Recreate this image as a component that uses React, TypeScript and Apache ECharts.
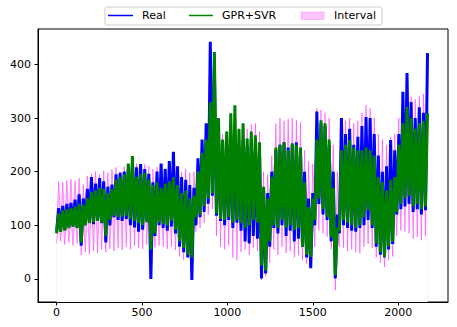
import React, { useEffect, useRef } from "react";
import * as echarts from "echarts";

const realValues = [
  88,132, 95,136, 92,140, 98,142, 100,148, 96,158, 62,150, 105,168, 108,190, 102,178,
  110,188, 104,182, 68,172, 100,176, 115,195, 110,198, 108,200, 112,205, 100,212, 96,208,
  88,214, 92,205, 110,196, 0,180, 80,200, 100,215, 95,205, 90,220, 98,237, 85,210,
  60,190, 50,185, 40,175, -2,170, 100,225, 115,260, 125,290, 140,442, 155,393, 118,270,
  108,255, 100,250, 110,258, 95,240, 105,245, 90,258, 70,248, 66,260, 80,240, 75,235,
  1,170, 10,160, 60,200, 95,240, 85,250, 100,255, 80,245, 90,250, 70,255, 75,240,
  60,200, 40,150, 20,160, 100,312, 140,290, 120,285, 110,250, 70,200, 1,120, 85,300,
  100,270, 95,280, 90,250, 88,265, 95,285, 100,302, 110,300, 95,270, 60,230, 45,200,
  40,210, 55,259, 65,240, 120,270, 130,349, 135,384, 140,330, 125,300, 130,320, 120,310,
  128,421,
];

const predValues = [
  85,122, 88,128, 90,130, 95,132, 97,135, 95,140, 68,138, 100,150, 104,162, 106,165,
  108,170, 105,168, 80,160, 110,168, 118,185, 115,190, 116,195, 118,215, 112,229, 108,190,
  104,195, 100,198, 106,185, 55,175, 85,180, 105,170, 102,178, 100,182, 108,190, 92,175,
  70,160, 58,165, 45,150, 40,155, 115,200, 120,235, 135,260, 150,330, 160,423, 122,300,
  112,260, 110,275, 115,309, 105,324, 110,280, 104,290, 95,262, 100,275, 110,268, 105,255,
  25,172, 16,150, 70,190, 100,245, 95,250, 110,255, 95,240, 100,253, 91,250, 95,245,
  60,180, 45,134, 41,150, 110,260, 150,296, 130,290, 115,260, 78,170, 7,95, 91,240,
  110,250, 105,259, 100,245, 95,240, 100,240, 115,245, 128,240, 100,230, 66,190, 50,180,
  41,165, 60,185, 70,190, 125,250, 140,290, 150,321, 155,300, 135,280, 140,290, 130,295,
  135,309,
];

const upperValues = [
  100,182, 103,180, 105,184, 110,186, 112,183, 110,188, 85,176, 115,192, 120,196, 121,200,
  123,195, 120,202, 95,198, 125,205, 133,208, 130,200, 131,210, 133,212, 127,208, 123,215,
  119,212, 115,214, 121,210, 70,205, 100,208, 120,210, 117,206, 115,215, 123,218, 107,210,
  85,200, 73,205, 60,198, 55,200, 130,220, 135,240, 150,262, 165,300, 175,310, 137,285,
  127,270, 125,275, 130,280, 120,285, 125,270, 119,282, 110,280, 115,288, 125,290, 120,275,
  40,200, 31,195, 85,230, 115,290, 110,300, 125,295, 110,298, 115,300, 106,296, 110,292,
  75,240, 60,220, 56,215, 125,318, 165,315, 145,310, 130,300, 93,250, 22,200, 106,300,
  125,295, 120,300, 115,290, 110,295, 115,310, 130,324, 143,318, 115,300, 81,270, 65,260,
  56,250, 75,265, 85,270, 140,300, 155,330, 165,345, 170,340, 150,335, 155,340, 145,345,
  150,360,
];

const lowerValues = [
  66,107, 70,113, 64,115, 68,117, 62,120, 66,125, 44,123, 50,135, 46,147, 52,150,
  48,155, 55,153, 50,145, 56,153, 52,170, 58,175, 54,180, 60,200, 55,214, 62,175,
  58,180, 56,183, 64,170, 45,160, 58,165, 62,155, 60,163, 56,167, 60,175, 54,160,
  42,145, 36,150, 40,135, 38,140, 88,185, 95,220, 105,245, 120,315, 130,408, 80,285,
  60,245, 55,260, 62,294, 40,309, 35,265, 50,275, 55,247, 45,260, 58,253, 52,240,
  -2,157, 5,135, 30,175, 55,230, 45,235, 60,240, 48,225, 52,238, 40,235, 44,230,
  35,165, 28,119, 30,135, 60,245, 90,281, 85,275, 78,245, 55,155, -21,80, 60,225,
  58,235, 52,244, 55,230, 50,225, 48,225, 60,230, 65,225, 58,215, 40,175, 30,165,
  22,150, 35,170, 42,175, 80,235, 90,275, 88,306, 85,285, 75,265, 78,275, 72,280,
  80,294,
];

const legendNames = ["Real", "GPR+SVR", "Interval"];

const FONT = "DejaVu Sans";

export default function App() {
  const ref = useRef<HTMLDivElement>(null);

  useEffect(() => {
    if (!ref.current) return;
    const chart = echarts.init(ref.current, undefined, { renderer: "svg" });
    const hours = realValues.map((_, i) => i * 12);
    const pink = "rgba(255,0,255,0.22)";
    const pinkEdge = "rgba(255,0,255,0.4)";

    const axisCommon = {
      splitLine: { show: false },
      axisLine: { show: true, onZero: false, lineStyle: { color: "#000", width: 1 } },
      axisTick: { show: true, length: 3.5, lineStyle: { color: "#000" } },
      z: 10,
    };

    const option: any = {
      animation: false,
      backgroundColor: "#ffffff",
      grid: {
        left: 38,
        right: 9,
        top: 29,
        bottom: 25,
        show: true,
        borderColor: "#000",
        borderWidth: 1,
        backgroundColor: "transparent",
      },
      xAxis: {
        type: "value",
        min: -109,
        max: 2292,
        splitNumber: 5,
        ...axisCommon,
        axisLabel: {
          color: "#000",
          fontSize: 11,
          fontFamily: FONT,
          margin: 5,
          showMinLabel: false,
          showMaxLabel: false,
          formatter: (v: number) => String(v),
        },
      },
      yAxis: {
        type: "value",
        min: -43,
        max: 466,
        splitNumber: 5,
        ...axisCommon,
        axisLabel: {
          color: "#000",
          fontSize: 11,
          fontFamily: FONT,
          margin: 7,
          showMinLabel: false,
          showMaxLabel: false,
          formatter: (v: number) => String(v),
        },
      },
      series: [
        {
          type: "line",
          name: legendNames[2],
          data: hours.map((h, i) => [h, upperValues[i]]),
          showSymbol: false,
          silent: true,
          lineStyle: { color: pinkEdge, width: 1 },
          areaStyle: { color: pink, origin: "start", opacity: 1 },
          z: 1,
        },
        {
          type: "line",
          name: "lowerBound",
          data: hours.map((h, i) => [h, lowerValues[i]]),
          showSymbol: false,
          silent: true,
          lineStyle: { color: pinkEdge, width: 1 },
          areaStyle: { color: "#ffffff", origin: "start", opacity: 1 },
          z: 1.5,
        },
        {
          type: "line",
          name: legendNames[0],
          data: hours.map((h, i) => [h, realValues[i]]),
          showSymbol: false,
          silent: true,
          lineStyle: { color: "#0000ff", width: 3 },
          z: 3,
        },
        {
          type: "line",
          name: legendNames[1],
          data: hours.map((h, i) => [h, predValues[i]]),
          showSymbol: false,
          silent: true,
          lineStyle: { color: "#008000", width: 3 },
          z: 4,
        },
      ],
      graphic: [
        {
          type: "rect",
          shape: { x: 105, y: 7, width: 277, height: 18, r: 2 },
          style: { fill: "rgba(255,255,255,0.8)", stroke: "#cccccc", lineWidth: 1 },
          z: 10,
        },
        {
          type: "line",
          shape: { x1: 108, y1: 15.5, x2: 133, y2: 15.5 },
          style: { stroke: "#0000ff", lineWidth: 1.5 },
          z: 11,
        },
        {
          type: "text",
          x: 142,
          y: 15.5,
          style: { text: legendNames[0], fill: "#000", font: `11px "${FONT}"`, verticalAlign: "middle" },
          z: 11,
        },
        {
          type: "line",
          shape: { x1: 189, y1: 15.5, x2: 213, y2: 15.5 },
          style: { stroke: "#008000", lineWidth: 1.5 },
          z: 11,
        },
        {
          type: "text",
          x: 222,
          y: 15.5,
          style: { text: legendNames[1], fill: "#000", font: `11px "${FONT}"`, verticalAlign: "middle" },
          z: 11,
        },
        {
          type: "rect",
          shape: { x: 301, y: 12, width: 23, height: 7.5 },
          style: { fill: pink, stroke: pinkEdge, lineWidth: 0.5 },
          z: 11,
        },
        {
          type: "text",
          x: 334,
          y: 15.5,
          style: { text: legendNames[2], fill: "#000", font: `11px "${FONT}"`, verticalAlign: "middle" },
          z: 11,
        },
      ],
    };

    chart.setOption(option);
    return () => chart.dispose();
  }, []);

  return (
    <div
      ref={ref}
      style={{ position: "fixed", left: 0, top: 0, width: 457, height: 327 }}
    />
  );
}
